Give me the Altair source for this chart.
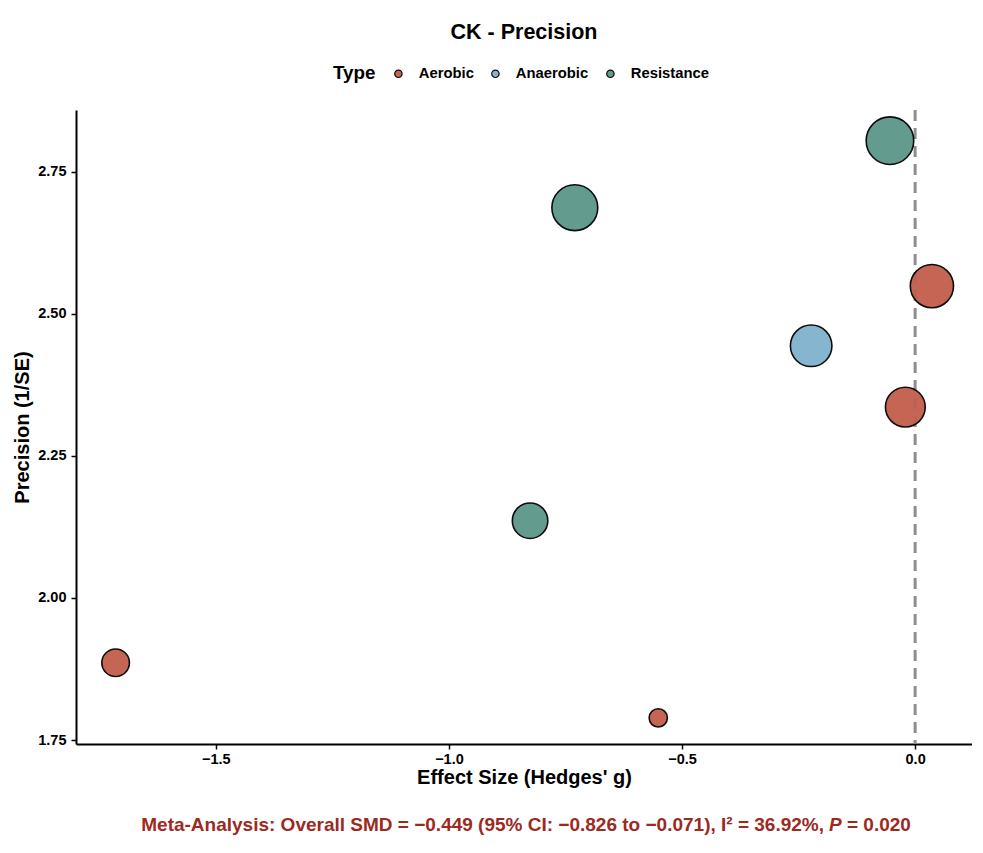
import altair as alt
import pandas as pd

# ---- data ----
types = ["Aerobic", "Aerobic", "Resistance", "Resistance", "Anaerobic", "Aerobic", "Aerobic", "Resistance"]
hedges_g = [-1.715, -0.551, -0.826, -0.730, -0.223, -0.021, 0.036, -0.054]
precision = [1.886, 1.789, 2.136, 2.687, 2.444, 2.336, 2.549, 2.805]
weight_pct = [6.4, 2.8, 10.6, 17.7, 14.5, 13.3, 15.7, 19.0]

type_order = ["Aerobic", "Anaerobic", "Resistance"]
type_colors = ["#C15E4A", "#80B3CD", "#5B9688"]

x_ticks = [-1.5, -1.0, -0.5, 0.0]
y_ticks = [1.75, 2.00, 2.25, 2.50, 2.75]

footer_main = "Meta-Analysis: Overall SMD = \u22120.449 (95% CI: \u22120.826 to \u22120.071), I\u00b2 = 36.92%,"
footer_p = "P"
footer_end = "= 0.020"

df = pd.DataFrame({"Type": types, "g": hedges_g, "prec": precision, "w": weight_pct})

FONT = "Liberation Sans"
W, H = 896, 634

xscale = alt.Scale(domain=[-1.800, 0.122], nice=False, zero=False)
yscale = alt.Scale(domain=[1.743, 2.859], nice=False, zero=False)

rule = alt.Chart(pd.DataFrame({"g0": [0.0]})).mark_rule(
    color="#8E8E8E", strokeWidth=3, strokeDash=[11, 7]
).encode(x=alt.X("g0:Q", scale=xscale))

points = alt.Chart(df).mark_circle(
    stroke="black", strokeWidth=1.6, opacity=0.95
).encode(
    x=alt.X("g:Q", scale=xscale, title="Effect Size (Hedges' g)",
            axis=alt.Axis(values=x_ticks, format=".1f")),
    y=alt.Y("prec:Q", scale=yscale, title="Precision (1/SE)",
            axis=alt.Axis(values=y_ticks, format=".2f")),
    color=alt.Color("Type:N", scale=alt.Scale(domain=type_order, range=type_colors),
                    legend=alt.Legend(orient="none", direction="horizontal",
                                      legendX=257, legendY=-44,
                                      titleOrient="left", title="Type")),
    size=alt.Size("w:Q", scale=alt.Scale(domain=[0, 20], range=[0, 2380]), legend=None),
)

footer_style = dict(font=FONT, fontSize=19, fontWeight="bold", color="#9C2A1F", baseline="middle")
ft1 = alt.Chart(pd.DataFrame({"t": [footer_main]})).mark_text(align="right", **footer_style).encode(
    text="t:N", x=alt.value(748), y=alt.value(715))
ft2 = alt.Chart(pd.DataFrame({"t": [footer_p]})).mark_text(align="left", fontStyle="italic", **footer_style).encode(
    text="t:N", x=alt.value(753), y=alt.value(715))
ft3 = alt.Chart(pd.DataFrame({"t": [footer_end]})).mark_text(align="left", **footer_style).encode(
    text="t:N", x=alt.value(771), y=alt.value(715))

chart = alt.layer(rule, points, ft1, ft2, ft3).properties(
    width=W, height=H,
    title=alt.TitleParams("CK - Precision", font=FONT, fontSize=21.5, fontWeight="bold",
                          anchor="middle", offset=23, color="black"),
    autosize=alt.AutoSizeParams(type="none"),
    padding={"left": 68, "top": 102, "right": 0, "bottom": 100},
).configure_view(stroke=None).configure_axis(
    domainColor="black", domainWidth=2, tickColor="black", tickWidth=1.5, tickSize=5,
    labelFont=FONT, labelFontSize=14.5, labelFontWeight="bold", labelColor="black",
    titleFont=FONT, titleFontSize=20, titleFontWeight="bold", titleColor="black",
    grid=False,
).configure_axisX(titlePadding=2, labelPadding=3).configure_axisY(titlePadding=5, labelPadding=5).configure_legend(
    labelFont=FONT, labelFontSize=14.8, labelFontWeight="bold", labelColor="black",
    titleFont=FONT, titleFontSize=18.8, titleFontWeight="bold", titleColor="black",
    symbolType="circle", symbolSize=55, symbolStrokeColor="black", symbolStrokeWidth=1.2,
    columnPadding=14, labelOffset=13, titlePadding=15,
)

chart.save("out.html", embed_options={"renderer": "svg", "actions": False})
